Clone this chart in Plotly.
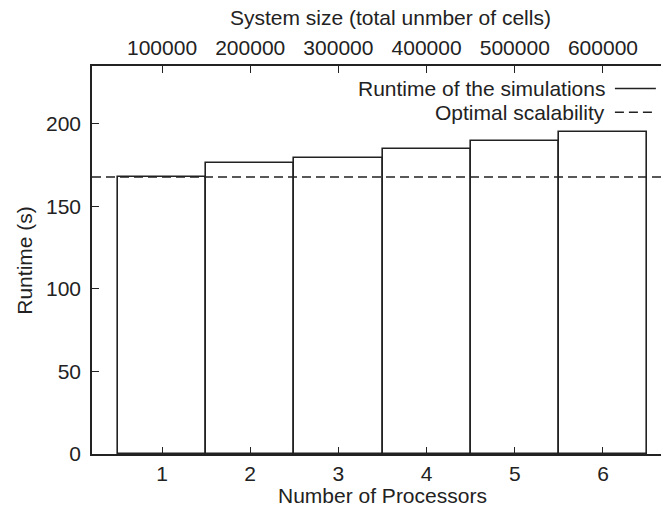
import plotly.graph_objects as go

processors = [1, 2, 3, 4, 5, 6]
runtime = [168, 176, 179.3, 184.8, 189.4, 195.2]
system_size = [100000, 200000, 300000, 400000, 500000, 600000]
system_size_labels = ["100000", "200000", "300000", "400000", "500000", "600000"]
optimal_runtime = 167.8
y_ticks = [0, 50, 100, 150, 200]

x_range = [0.206, 6.658]
y_range = [0, 235]
scale = 100000  # system size per processor

FONT = "Liberation Sans, Arial, Helvetica, sans-serif"
INK = "#222222"
FS = 21

fig = go.Figure()
fig.add_trace(go.Bar(
    x=processors, y=runtime, width=1.0,
    marker=dict(color="white", line=dict(color=INK, width=1.6)),
    showlegend=False, hoverinfo="x+y",
))
# invisible trace to anchor the top axis
fig.add_trace(go.Scatter(
    x=system_size, y=runtime, xaxis="x2", mode="markers",
    marker=dict(opacity=0), showlegend=False, hoverinfo="skip",
))
fig.add_hline(y=optimal_runtime, line=dict(color=INK, width=1.5, dash="9px,5px"))

axis_common = dict(
    showgrid=False, zeroline=False, showline=True, linecolor=INK, linewidth=1.5,
    ticks="inside", ticklen=7, tickwidth=1.3, tickcolor=INK,
    tickfont=dict(family=FONT, size=FS, color="#222"),
)
fig.update_layout(
    width=661, height=510,
    margin=dict(l=92, r=0, t=66, b=56),
    paper_bgcolor="white", plot_bgcolor="white",
    xaxis=dict(range=x_range, tickvals=processors, ticklabelstandoff=0, **axis_common),
    xaxis2=dict(range=[x_range[0] * scale, x_range[1] * scale], overlaying="x", side="top",
                tickvals=system_size, ticktext=system_size_labels, ticklabelstandoff=1,
                **axis_common),
    yaxis=dict(range=y_range, tickvals=y_ticks, ticklabelstandoff=5, **axis_common),
    bargap=0,
)

# axis titles
title_font = dict(family=FONT, size=FS, color="#222")
fig.add_annotation(text="Number of Processors", xref="paper", yref="paper",
                   x=0.51, y=-0.106, xanchor="center", yanchor="middle",
                   showarrow=False, font=title_font)
fig.add_annotation(text="System size (total unmber of cells)", xref="paper", yref="paper",
                   x=0.524, y=1.124, xanchor="center", yanchor="middle",
                   showarrow=False, font=title_font)
fig.add_annotation(text="Runtime (s)", xref="paper", yref="paper",
                   x=-0.12, y=0.5, xanchor="center", yanchor="middle", textangle=-90,
                   showarrow=False, font=title_font)

# legend (text right-aligned, key line on the right)
legend_items = [("Runtime of the simulations", "solid", 0.942),
                ("Optimal scalability", "dash", 0.881)]
for label, dash, ypos in legend_items:
    fig.add_annotation(text=label, xref="paper", yref="paper", x=0.905, y=ypos,
                       xanchor="right", yanchor="middle", showarrow=False, font=title_font)
    fig.add_shape(type="line", xref="paper", yref="paper", x0=0.919, x1=0.991,
                  y0=ypos, y1=ypos,
                  line=dict(color=INK, width=1.5, dash="solid" if dash == "solid" else "9px,5px"))

fig.write_html("out.html")
